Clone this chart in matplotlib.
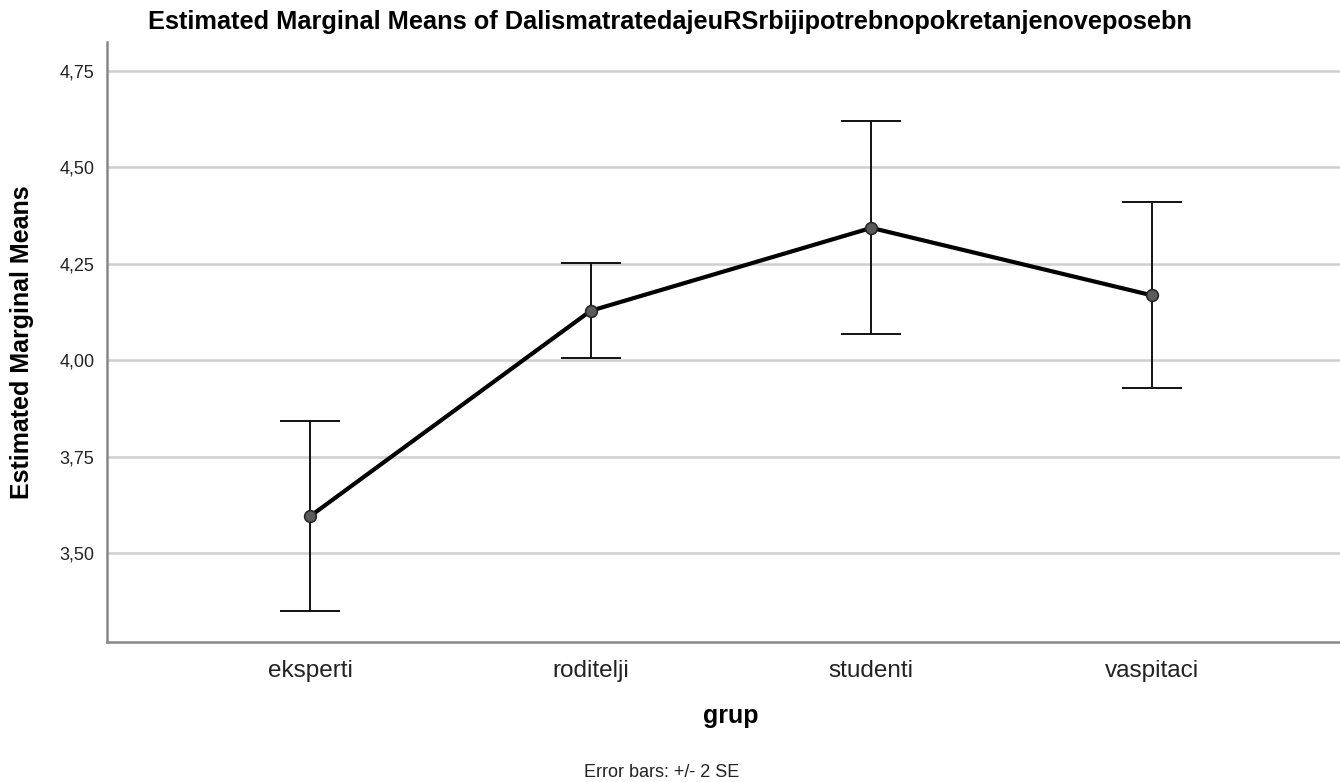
import numpy as np
from matplotlib import pyplot as plt

plt.rcParams['font.family'] = ['Liberation Sans', 'DejaVu Sans']

# values
groups = ['eksperti', 'roditelji', 'studenti', 'vaspitaci']
means = [3.595, 4.128, 4.343, 4.168]
lower = [3.349, 4.005, 4.067, 3.929]   # mean - 2 SE
upper = [3.843, 4.253, 4.620, 4.409]   # mean + 2 SE
yticks = [3.50, 3.75, 4.00, 4.25, 4.50, 4.75]
ytick_labels = ['3,50', '3,75', '4,00', '4,25', '4,50', '4,75']

title = 'Estimated Marginal Means of DalismatratedajeuRSrbijipotrebnopokretanjenoveposebn'

fig = plt.figure(figsize=(13.4, 7.82), dpi=100)
# axes runs a little past the right edge, like the cropped original
ax = fig.add_axes([107 / 1340, 1 - 641.7 / 782, 1248 / 1340, (641.7 - 42) / 782])

x = np.arange(len(groups))
means = np.array(means)
yerr = np.array([means - np.array(lower), np.array(upper) - means])

ax.errorbar(x, means, yerr=yerr, fmt='none', ecolor='#111111', elinewidth=1.4,
            capsize=21.6, capthick=1.4, zorder=3)
ax.plot(x, means, color='black', linewidth=3.0, zorder=4)
ax.plot(x, means, 'o', markersize=8.5, markerfacecolor='#5a5a5a',
        markeredgecolor='#222222', markeredgewidth=1.1, zorder=5)

ax.set_xlim(-0.723, 3.723)
ax.set_ylim(3.270, 4.825)
ax.set_xticks(x)
ax.set_xticklabels(groups, fontsize=17.5, color='#222222')
ax.set_yticks(yticks)
ax.set_yticklabels(ytick_labels, fontsize=13, color='#222222')
ax.tick_params(axis='both', length=0)
ax.tick_params(axis='x', pad=13)
ax.tick_params(axis='y', pad=9)

ax.grid(axis='y', color='#cfcfcf', linewidth=1.8)
ax.set_axisbelow(True)
for side in ['top', 'right']:
    ax.spines[side].set_visible(False)
for side in ['left', 'bottom']:
    ax.spines[side].set_color('#888888')
    ax.spines[side].set_linewidth(1.8)

ax.set_xlabel('grup', fontsize=18, fontweight='bold', labelpad=16)
ax.set_ylabel('Estimated Marginal Means', fontsize=18, fontweight='bold', labelpad=18)

fig.text(670 / 1340, 1 - 29.3 / 782, title, ha='center', va='baseline',
         fontsize=18.3, fontweight='bold')
fig.text(662 / 1340, 1 - 777 / 782, 'Error bars: +/- 2 SE', ha='center', va='baseline',
         fontsize=13, color='#222222')

fig.savefig('out.png', dpi=100)
